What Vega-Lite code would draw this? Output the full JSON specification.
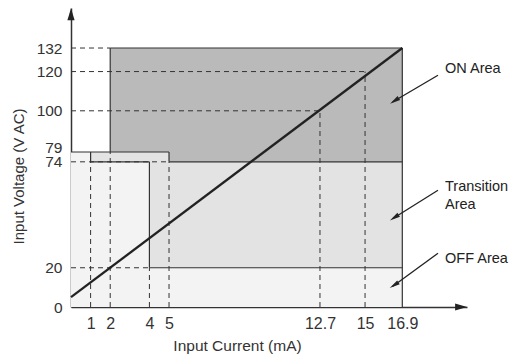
{
  "$schema": "https://vega.github.io/schema/vega-lite/v6.json",
  "width": 396,
  "height": 299,
  "autosize": {"type": "none"},
  "padding": {"left": 71, "top": 8, "right": 46, "bottom": 50},
  "background": "white",
  "config": {"view": {"stroke": null}, "font": "Liberation Sans"},
  "datasets": {
    "regions": [
      {"region": "OFF", "x": 0, "x2": 16.9, "y": 0, "y2": 79},
      {"region": "Transition", "x": 1, "x2": 5, "y": 74, "y2": 79},
      {"region": "Transition", "x": 4, "x2": 16.9, "y": 20, "y2": 74},
      {"region": "ON", "x": 2, "x2": 16.9, "y": 79, "y2": 132},
      {"region": "ON", "x": 5, "x2": 16.9, "y": 74, "y2": 79}
    ],
    "dashed": [
      {"x": 0, "x2": 2, "y": 132, "y2": 132},
      {"x": 0, "x2": 15, "y": 120, "y2": 120},
      {"x": 0, "x2": 12.7, "y": 100, "y2": 100},
      {"x": 0, "x2": 5, "y": 74, "y2": 74},
      {"x": 0, "x2": 4, "y": 20, "y2": 20},
      {"x": 1, "x2": 1, "y": 0, "y2": 74},
      {"x": 2, "x2": 2, "y": 0, "y2": 79},
      {"x": 4, "x2": 4, "y": 0, "y2": 20},
      {"x": 5, "x2": 5, "y": 0, "y2": 74},
      {"x": 12.7, "x2": 12.7, "y": 0, "y2": 100},
      {"x": 15, "x2": 15, "y": 0, "y2": 120}
    ],
    "solid": [
      {"x": 2, "x2": 16.9, "y": 132, "y2": 132},
      {"x": 2, "x2": 2, "y": 79, "y2": 132},
      {"x": 16.9, "x2": 16.9, "y": 0, "y2": 132},
      {"x": 0, "x2": 5, "y": 79, "y2": 79},
      {"x": 5, "x2": 5, "y": 74, "y2": 79},
      {"x": 5, "x2": 16.9, "y": 74, "y2": 74},
      {"x": 1, "x2": 1, "y": 74, "y2": 79},
      {"x": 1, "x2": 4, "y": 74, "y2": 74},
      {"x": 4, "x2": 4, "y": 20, "y2": 74},
      {"x": 4, "x2": 16.9, "y": 20, "y2": 20}
    ],
    "diagonal": [
      {"x": 0, "x2": 16.9, "y": 5, "y2": 132}
    ],
    "pointers": [
      {"x": 18.72, "x2": 16.4, "y": 118.1, "y2": 104.5},
      {"x": 18.72, "x2": 16.4, "y": 59.5, "y2": 45},
      {"x": 18.72, "x2": 16.4, "y": 27.4, "y2": 10.4}
    ],
    "heads": [
      {"x": 16.5, "y": 105.1},
      {"x": 16.49, "y": 45.6},
      {"x": 16.48, "y": 11.1}
    ],
    "labels": [
      {"x": 19.08, "y": 121.2, "text": "ON Area"},
      {"x": 19.08, "y": 61.4, "text": "Transition"},
      {"x": 19.08, "y": 52.2, "text": "Area"},
      {"x": 19.08, "y": 24.6, "text": "OFF Area"}
    ],
    "yarrow": [{"x": 0, "y": 149.2}],
    "xarrow": [{"x": 19.9, "y": 0}]
  },
  "layer": [
    {
      "data": {"name": "regions"},
      "mark": {"type": "rect", "strokeWidth": 0},
      "encoding": {
        "x": {
          "field": "x", "type": "quantitative",
          "scale": {"domain": [0, 20.2], "nice": false, "zero": false},
          "axis": {
            "values": [1, 2, 4, 5, 12.7, 15, 16.9],
            "labelExpr": "'' + datum.value",
            "ticks": false, "grid": false,
            "domainColor": "#333333", "domainWidth": 1.5,
            "labelFontSize": 16, "labelColor": "#333333", "labelPadding": 8,
            "labelFlush": false, "labelOverlap": false, "labelBound": false,
            "title": "Input Current (mA)",
            "titleFontSize": 15.5, "titleFontWeight": "normal", "titleColor": "#333333",
            "titleX": 166, "titleY": 38, "titleBaseline": "middle", "titleAlign": "center"
          }
        },
        "x2": {"field": "x2"},
        "y": {
          "field": "y", "type": "quantitative",
          "scale": {"domain": [0, 152.4], "nice": false, "zero": false},
          "axis": {
            "values": [0, 20, 74, 79, 100, 120, 132],
            "ticks": false, "grid": false,
            "domainColor": "#333333", "domainWidth": 1.5,
            "labelFontSize": 15.5, "labelColor": "#333333", "labelPadding": 9,
            "labelBaseline": {"condition": {"test": "datum.value === 79", "value": "alphabetic"}, "value": "middle"},
            "labelFlush": false, "labelOverlap": false, "labelBound": false,
            "title": "Input Voltage (V AC)",
            "titleFontSize": 15, "titleFontWeight": "normal", "titleColor": "#333333",
            "titleAngle": -90, "titleX": -53, "titleY": 168, "titleBaseline": "middle", "titleAlign": "center"
          }
        },
        "y2": {"field": "y2"},
        "color": {
          "field": "region", "type": "nominal",
          "scale": {"domain": ["ON", "Transition", "OFF"], "range": ["#bababa", "#e3e3e3", "#f3f3f3"]},
          "legend": null
        }
      }
    },
    {
      "data": {"name": "dashed"},
      "mark": {"type": "rule", "color": "#333333", "strokeWidth": 1, "strokeDash": [5, 4]},
      "encoding": {
        "x": {"field": "x", "type": "quantitative"},
        "x2": {"field": "x2"},
        "y": {"field": "y", "type": "quantitative"},
        "y2": {"field": "y2"}
      }
    },
    {
      "data": {"name": "solid"},
      "mark": {"type": "rule", "color": "#333333", "strokeWidth": 1.2},
      "encoding": {
        "x": {"field": "x", "type": "quantitative"},
        "x2": {"field": "x2"},
        "y": {"field": "y", "type": "quantitative"},
        "y2": {"field": "y2"}
      }
    },
    {
      "data": {"name": "diagonal"},
      "mark": {"type": "rule", "color": "#222222", "strokeWidth": 2.3},
      "encoding": {
        "x": {"field": "x", "type": "quantitative"},
        "x2": {"field": "x2"},
        "y": {"field": "y", "type": "quantitative"},
        "y2": {"field": "y2"}
      }
    },
    {
      "data": {"name": "pointers"},
      "mark": {"type": "rule", "color": "#222222", "strokeWidth": 1.3},
      "encoding": {
        "x": {"field": "x", "type": "quantitative"},
        "x2": {"field": "x2"},
        "y": {"field": "y", "type": "quantitative"},
        "y2": {"field": "y2"}
      }
    },
    {
      "data": {"name": "heads"},
      "mark": {"type": "point", "shape": "M0,-1L0.45,1L-0.45,1Z", "filled": true, "color": "#222222", "size": 110, "angle": 237, "opacity": 1},
      "encoding": {
        "x": {"field": "x", "type": "quantitative"},
        "y": {"field": "y", "type": "quantitative"}
      }
    },
    {
      "data": {"name": "yarrow"},
      "mark": {"type": "point", "shape": "M0,-1L0.6,1L-0.6,1Z", "filled": true, "color": "#222222", "size": 144, "opacity": 1},
      "encoding": {
        "x": {"field": "x", "type": "quantitative"},
        "y": {"field": "y", "type": "quantitative"}
      }
    },
    {
      "data": {"name": "xarrow"},
      "mark": {"type": "point", "shape": "M0,-1L0.6,1L-0.6,1Z", "filled": true, "color": "#222222", "size": 144, "angle": 90, "opacity": 1},
      "encoding": {
        "x": {"field": "x", "type": "quantitative"},
        "y": {"field": "y", "type": "quantitative"}
      }
    },
    {
      "data": {"name": "labels"},
      "mark": {"type": "text", "align": "left", "baseline": "middle", "fontSize": 14.5, "color": "#222222"},
      "encoding": {
        "x": {"field": "x", "type": "quantitative"},
        "y": {"field": "y", "type": "quantitative"},
        "text": {"field": "text"}
      }
    }
  ]
}
